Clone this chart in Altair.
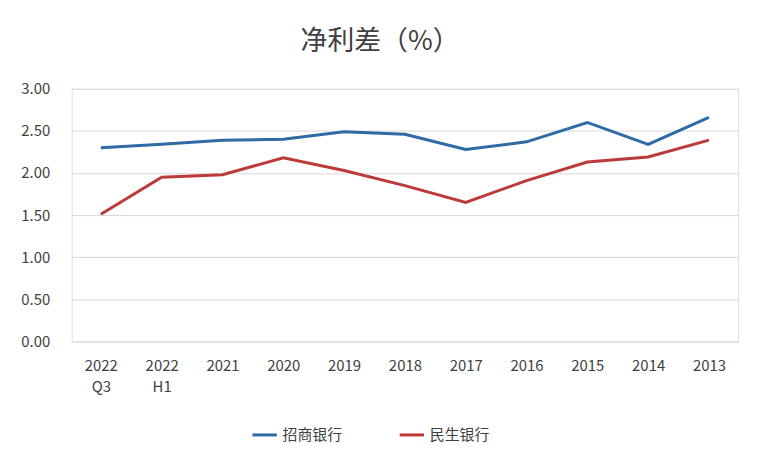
import altair as alt
import pandas as pd

categories = ["2022 Q3", "2022 H1", "2021", "2020", "2019", "2018", "2017", "2016", "2015", "2014", "2013"]
series_names = ["招商银行", "民生银行"]
blue_values = [2.30, 2.34, 2.39, 2.40, 2.49, 2.46, 2.28, 2.37, 2.60, 2.34, 2.66]
red_values = [1.51, 1.95, 1.98, 2.18, 2.03, 1.85, 1.65, 1.91, 2.13, 2.19, 2.39]
y_ticks = [0, 0.5, 1.0, 1.5, 2.0, 2.5, 3.0]

rows = []
for i, c in enumerate(categories):
    rows.append({"period": c, "series": series_names[0], "value": blue_values[i], "order": i})
    rows.append({"period": c, "series": series_names[1], "value": red_values[i], "order": i})
df = pd.DataFrame(rows)

FONT = "Noto Sans CJK SC"

chart = alt.Chart(df).mark_line(strokeWidth=3).encode(
    x=alt.X("period:N", sort=categories,
            scale=alt.Scale(type="point", padding=0.48),
            axis=alt.Axis(title=None, labelAngle=0, domain=False, ticks=False,
                          labelExpr="split(datum.value, ' ')",
                          labelFontSize=15, labelColor="#404040", labelPadding=17,
                          labelFont=FONT, labelLineHeight=21)),
    y=alt.Y("value:Q", scale=alt.Scale(domain=[0, 3]),
            axis=alt.Axis(title=None, values=y_ticks, format=".2f", domain=False, ticks=False,
                          labelFontSize=15, labelColor="#404040", labelPadding=22,
                          labelFont=FONT, gridColor="#d9d9d9", gridWidth=1)),
    color=alt.Color("series:N", sort=series_names,
                    scale=alt.Scale(domain=series_names, range=["#2e6aa3", "#bd3a3a"]),
                    legend=alt.Legend(title=None, orient="none", direction="horizontal",
                                      legendX=180, legendY=334, symbolType="stroke",
                                      symbolStrokeWidth=3, symbolSize=600,
                                      labelFontSize=15, labelColor="#404040", labelFont=FONT,
                                      columnPadding=50)),
    order="order:Q",
).properties(
    width=670, height=254,
    title=alt.TitleParams("净利差（%）", fontSize=27, font=FONT, color="#404040",
                          fontWeight="normal", offset=26, anchor="middle", dx=-25),
    autosize=alt.AutoSizeParams(type="none"),
    padding={"left": 64, "top": 80, "right": 28, "bottom": 120},
).configure_view(stroke=None).configure(background="white")

chart.save("out.html", embed_options={"renderer": "svg", "actions": False})
